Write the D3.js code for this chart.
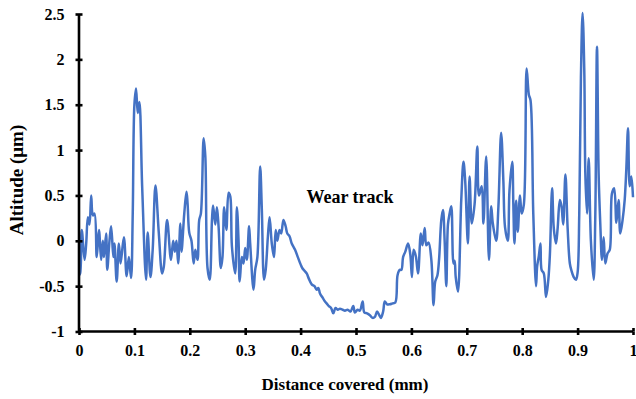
<!DOCTYPE html>
<html>
<head>
<meta charset="utf-8">
<script src="https://cdn.jsdelivr.net/npm/d3@7"></script>
<style>
  body { margin: 0; background: #fff; }
  text { font-family: "Liberation Serif", "Times New Roman", serif; font-weight: bold; fill: #000; }
</style>
</head>
<body>
<svg id="chart" width="636" height="399"></svg>
<script>
// profile: distance (mm) and altitude (µm)
const distance = [
  0.000, 0.002, 0.005, 0.010, 0.013, 0.016, 0.019, 0.022, 0.025, 0.028, 0.032, 0.036, 0.040, 0.043, 0.045, 0.049,
  0.051, 0.055, 0.058, 0.062, 0.064, 0.068, 0.072, 0.075, 0.081, 0.086, 0.090, 0.094, 0.097, 0.100, 0.103, 0.106,
  0.109, 0.114, 0.121, 0.124, 0.129, 0.133, 0.138, 0.144, 0.150, 0.153, 0.159, 0.166, 0.170, 0.173, 0.176, 0.179,
  0.183, 0.185, 0.190, 0.194, 0.196, 0.199, 0.203, 0.207, 0.210, 0.214, 0.217, 0.220, 0.225, 0.228, 0.232, 0.236,
  0.240, 0.242, 0.246, 0.249, 0.252, 0.256, 0.259, 0.262, 0.266, 0.270, 0.273, 0.276, 0.282, 0.285, 0.288, 0.290,
  0.294, 0.297, 0.300, 0.303, 0.307, 0.309, 0.315, 0.318, 0.322, 0.327, 0.330, 0.334, 0.337, 0.341, 0.344, 0.348,
  0.352, 0.355, 0.358, 0.362, 0.365, 0.369, 0.373, 0.376, 0.380, 0.384, 0.390, 0.395, 0.400, 0.403, 0.407, 0.411,
  0.415, 0.420, 0.425, 0.429, 0.432, 0.435, 0.440, 0.444, 0.447, 0.451, 0.455, 0.459, 0.463, 0.467, 0.471, 0.476,
  0.480, 0.485, 0.490, 0.495, 0.498, 0.503, 0.507, 0.512, 0.515, 0.520, 0.525, 0.530, 0.534, 0.538, 0.542, 0.545,
  0.549, 0.552, 0.556, 0.561, 0.566, 0.571, 0.575, 0.579, 0.582, 0.585, 0.589, 0.594, 0.598, 0.601, 0.604, 0.608,
  0.612, 0.617, 0.620, 0.624, 0.627, 0.631, 0.636, 0.640, 0.643, 0.647, 0.650, 0.654, 0.657, 0.660, 0.663, 0.666,
  0.669, 0.672, 0.676, 0.678, 0.680, 0.684, 0.690, 0.694, 0.697, 0.702, 0.705, 0.709, 0.714, 0.719, 0.722, 0.727,
  0.730, 0.735, 0.740, 0.744, 0.747, 0.753, 0.757, 0.762, 0.766, 0.769, 0.774, 0.777, 0.782, 0.784, 0.786, 0.789,
  0.792, 0.796, 0.799, 0.803, 0.808, 0.812, 0.815, 0.820, 0.825, 0.827, 0.830, 0.833, 0.835, 0.839, 0.843, 0.847,
  0.850, 0.854, 0.857, 0.861, 0.864, 0.868, 0.871, 0.874, 0.878, 0.882, 0.886, 0.889, 0.893, 0.897, 0.900, 0.903,
  0.906, 0.909, 0.912, 0.914, 0.917, 0.920, 0.924, 0.929, 0.932, 0.935, 0.938, 0.941, 0.944, 0.947, 0.950, 0.954,
  0.958, 0.962, 0.966, 0.970, 0.974, 0.977, 0.981, 0.985, 0.988, 0.991, 0.994, 0.997, 1.000
];
const altitude = [
  -0.38, -0.36, 0.12, -0.21, -0.03, 0.26, 0.18, 0.50, 0.28, 0.30, -0.18, 0.12, -0.21, 0.00, -0.18, 0.08,
  -0.32, 0.00, 0.16, -0.18, -0.03, -0.45, -0.03, -0.25, 0.04, -0.39, -0.18, -0.41, 0.30, 1.50, 1.68, 1.41,
  1.53, 0.60, -0.43, 0.09, -0.40, -0.10, 0.61, 0.09, -0.36, -0.29, 0.23, -0.21, 0.00, -0.12, 0.00, -0.25,
  0.19, -0.12, 0.30, 0.54, 0.41, 0.09, 0.00, -0.25, -0.10, -0.21, 0.23, 0.30, 1.13, 0.93, -0.30, -0.43,
  0.23, 0.39, 0.18, 0.37, 0.15, -0.30, -0.18, 0.37, 0.12, 0.53, 0.49, -0.06, -0.36, 0.37, 0.00, -0.45,
  -0.18, -0.25, -0.08, -0.21, 0.16, -0.03, -0.54, -0.32, -0.18, 0.82, 0.35, -0.43, -0.32, 0.05, 0.26, -0.03,
  -0.18, 0.12, 0.00, 0.12, 0.08, 0.23, 0.16, 0.08, 0.05, -0.03, -0.10, -0.18, -0.26, -0.30, -0.33, -0.36,
  -0.42, -0.48, -0.50, -0.54, -0.52, -0.58, -0.63, -0.67, -0.69, -0.72, -0.74, -0.80, -0.74, -0.76, -0.75, -0.76,
  -0.77, -0.76, -0.78, -0.72, -0.79, -0.76, -0.77, -0.67, -0.79, -0.80, -0.82, -0.85, -0.84, -0.78, -0.82, -0.85,
  -0.78, -0.67, -0.70, -0.70, -0.69, -0.68, -0.38, -0.32, -0.32, -0.18, -0.12, -0.03, -0.15, -0.40, -0.10, -0.17,
  -0.36, 0.08, -0.05, 0.14, -0.05, -0.02, -0.21, -0.71, -0.45, -0.38, -0.20, 0.23, 0.34, 0.00, -0.50, 0.18,
  0.30, 0.38, -0.25, -0.22, -0.40, -0.56, 0.45, 0.87, 0.67, -0.03, 0.71, 0.19, 0.40, 1.04, 0.50, 0.60,
  0.19, 0.93, -0.21, 0.38, 0.19, 0.00, 0.37, 1.19, 0.66, 0.15, 0.00, 0.55, 0.87, 0.40, -0.03, 0.44,
  0.10, 0.50, 0.30, 0.40, 1.90, 1.61, 1.55, 0.30, -0.50, -0.28, -0.17, -0.03, -0.32, -0.36, -0.62, -0.44,
  -0.15, 0.58, 0.14, -0.03, 0.14, 0.45, 0.38, 0.18, 0.73, 0.14, -0.25, -0.33, -0.40, -0.43, -0.35, 0.30,
  1.80, 2.51, 1.90, 0.73, 0.30, 0.91, 0.00, -0.43, 0.30, 2.14, 0.73, 0.18, -0.21, 0.04, -0.25, -0.14,
  -0.10, 0.52, 0.58, 0.20, 0.45, 0.08, 0.22, 0.45, 0.80, 1.24, 0.60, 0.71, 0.48
];
const xTicks = [0, 0.1, 0.2, 0.3, 0.4, 0.5, 0.6, 0.7, 0.8, 0.9, 1];
const yTicks = [-1, -0.5, 0, 0.5, 1, 1.5, 2, 2.5];

const svg = d3.select("#chart");
const plotLeft = 79, plotRight = 633, plotTop = 14, plotBottom = 331.5;

const x = d3.scaleLinear().domain([0, 1]).range([plotLeft, plotRight]);
const y = d3.scaleLinear().domain([-1, 2.5]).range([plotBottom, plotTop]);

const points = distance.map((d, i) => [d, altitude[i]]);

const line = d3.line()
  .x(d => x(d[0]))
  .y(d => y(d[1]))
  .curve(d3.curveCatmullRom.alpha(0.5));

svg.append("path")
  .datum(points)
  .attr("d", line)
  .attr("fill", "none")
  .attr("stroke", "#4472C4")
  .attr("stroke-width", 2.5)
  .attr("stroke-linejoin", "round");

// axes: ticks cross the axis line
const xAxis = svg.append("g")
  .attr("transform", `translate(0,${plotBottom})`)
  .call(d3.axisBottom(x).tickValues(xTicks).tickSize(3.5).tickPadding(10).tickFormat(d => String(d)));
const yAxis = svg.append("g")
  .attr("transform", `translate(${plotLeft},0)`)
  .call(d3.axisLeft(y).tickValues(yTicks).tickSize(3.5).tickPadding(11).tickFormat(d => String(d)));

[xAxis, yAxis].forEach(g => {
  g.select(".domain").attr("stroke", "#000").attr("stroke-width", 2.6);
  g.selectAll(".tick line").attr("stroke", "#000").attr("stroke-width", 2.6);
  g.selectAll(".tick text").style("font-size", "16px").style("font-family", "Liberation Serif").style("font-weight", "bold");
});
xAxis.selectAll(".tick").append("line").attr("y2", -3.5).attr("stroke", "#000").attr("stroke-width", 2.6);
yAxis.selectAll(".tick").append("line").attr("x2", 3.5).attr("stroke", "#000").attr("stroke-width", 2.6);
xAxis.select(".domain").attr("d", `M${plotLeft},0H${plotRight}`);
yAxis.select(".domain").attr("d", `M0,${plotTop}V${plotBottom}`);

svg.append("text")
  .attr("x", 345).attr("y", 390)
  .attr("text-anchor", "middle")
  .style("font-size", "17px")
  .text("Distance covered (mm)");

svg.append("text")
  .attr("transform", "translate(23,180) rotate(-90)")
  .attr("text-anchor", "middle")
  .style("font-size", "19px")
  .text("Altitude (μm)");

svg.append("text")
  .attr("x", 350).attr("y", 203)
  .attr("text-anchor", "middle")
  .style("font-size", "18px")
  .text("Wear track");
</script>
</body>
</html>
